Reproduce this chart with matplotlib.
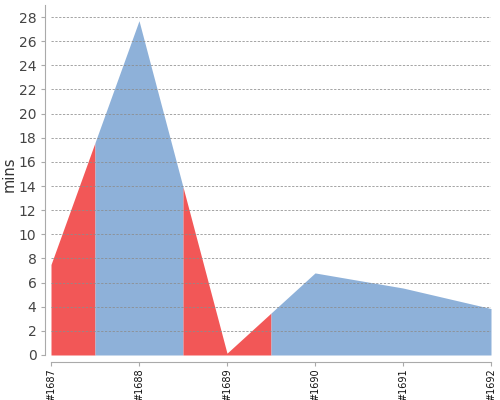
import numpy as np
import matplotlib
matplotlib.use("Agg")
import matplotlib.pyplot as plt

builds = ["#1687", "#1688", "#1689", "#1690", "#1691", "#1692"]
durations = [7.5, 27.7, 0.15, 6.8, 5.55, 3.85]
statuses = ["failed", "success", "failed", "success", "success", "success"]
colors = {"failed": "#f25757", "success": "#8eb1d9"}

x = np.arange(len(builds))
y = np.array(durations)

fig = plt.figure(figsize=(5, 4), dpi=100)
ax = fig.add_axes([51/500, 45/400, 440/500, 350/400])

# group consecutive builds with the same status
groups = []
for i, st in enumerate(statuses):
    if groups and groups[-1][0] == st:
        groups[-1][2] = i
    else:
        groups.append([st, i, i])

for st, i0, i1 in groups:
    lo = max(i0 - 0.5, 0)
    hi = min(i1 + 0.5, len(builds) - 1)
    xs = np.unique(np.concatenate([[lo, hi], x[(x >= lo) & (x <= hi)]]))
    ys = np.interp(xs, x, y)
    ax.fill_between(xs, 0, ys, color=colors[st], linewidth=0, zorder=1)

ax.set_xlim(0, len(builds) - 1)
ax.set_ylim(0, 29)
ax.set_yticks(range(0, 29, 2))
ax.set_xticks(x)
ax.set_xticklabels(builds)
ax.tick_params(axis='x', labelrotation=90, labelsize=7, labelcolor='#111111',
               color='#aaaaaa', length=3, pad=1.5)
ax.tick_params(axis='y', labelsize=10, labelcolor='#444444', color='#aaaaaa', length=3)
ax.yaxis.grid(True, linestyle=(0, (3, 2)), color='#8c8c8c', linewidth=0.55, zorder=2)
ax.set_axisbelow(False)
for s in ['top', 'right']:
    ax.spines[s].set_visible(False)
ax.spines['left'].set_position(('outward', 4))
ax.spines['bottom'].set_position(('outward', 5))
for s in ['left', 'bottom']:
    ax.spines[s].set_color('#aaaaaa')
ax.set_ylabel("mins", fontsize=10.5, color='#333333')
ax.yaxis.set_label_coords(-0.077, 0.517)

fig.savefig("out.png", dpi=100)
